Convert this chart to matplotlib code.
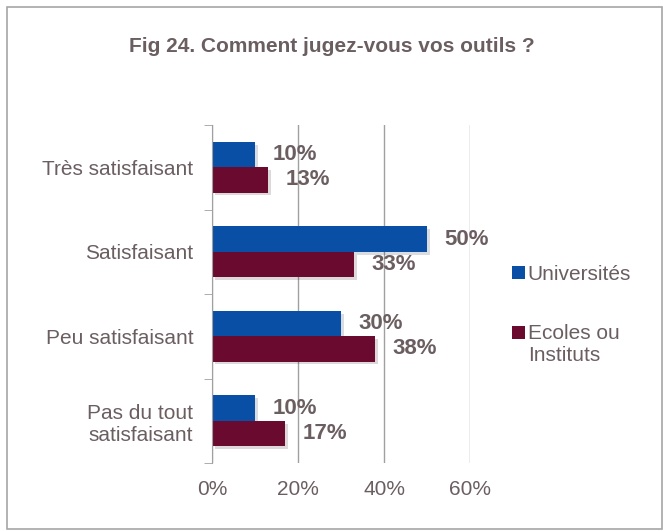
import matplotlib.pyplot as plt
import matplotlib.patheffects as pe
from matplotlib.patches import Rectangle
import numpy as np

plt.rcParams['font.family'] = ['Liberation Sans', 'DejaVu Sans']

categories = ['Très satisfaisant', 'Satisfaisant', 'Peu satisfaisant', 'Pas du tout\nsatisfaisant']
universites = [10, 50, 30, 10]
ecoles = [13, 33, 38, 17]
series_names = ['Universités', 'Ecoles ou\nInstituts']

blue = '#0A4FA6'
maroon = '#6A0A2E'
txt = '#6B5E61'
grid_c = '#A0A0A0'

fig = plt.figure(figsize=(6.63, 5.31), dpi=100)
fig.patches.append(Rectangle((0.011, 0.003), 0.987, 0.983, transform=fig.transFigure,
                             fill=False, edgecolor='#A6A6A6', linewidth=1.2))
ax = fig.add_axes([212/663, 1 - 463/531, (470-212)/663, (463-125)/531])

y = np.arange(len(categories))
h = 0.3
shadow = [pe.SimplePatchShadow(offset=(2, -2), alpha=0.15), pe.Normal()]
b1 = ax.barh(y - h/2, universites, height=h, color=blue, label=series_names[0], path_effects=shadow)
b2 = ax.barh(y + h/2, ecoles, height=h, color=maroon, label=series_names[1], path_effects=shadow)

for rects, vals in ((b1, universites), (b2, ecoles)):
    for r, v in zip(rects, vals):
        ax.annotate(f'{v}%', (v, r.get_y() + r.get_height()/2), xytext=(12.5, 0),
                    textcoords='offset points', va='center', ha='left',
                    fontsize=16, fontweight='bold', color=txt)

ax.set_xlim(0, 60)
ax.set_ylim(len(categories) - 0.5, -0.5)
ax.set_xticks([0, 20, 40, 60])
ax.set_xticklabels(['0%', '20%', '40%', '60%'])
ax.set_yticks(y)
ax.set_yticklabels(categories)
ax.set_yticks(np.arange(len(categories) + 1) - 0.5, minor=True)
ax.tick_params(axis='y', which='major', length=0, pad=13.5, labelsize=15, labelcolor=txt)
ax.tick_params(axis='y', which='minor', length=6, color=grid_c, direction='out')
ax.tick_params(axis='x', length=0, pad=12, labelsize=15, labelcolor=txt)
for lbl in ax.get_yticklabels():
    lbl.set_horizontalalignment('right')
    lbl.set_multialignment('center')

ax.xaxis.grid(True, color=grid_c, linewidth=1)
ax.set_axisbelow(True)
for s in ['top', 'right', 'bottom']:
    ax.spines[s].set_visible(False)
ax.spines['left'].set_color(grid_c)

fig.text(0.5, 1 - 47/531, 'Fig 24. Comment jugez-vous vos outils ?', ha='center', va='center',
         fontsize=15, fontweight='bold', color=txt)

leg = fig.legend(handles=[b1, b2], labels=series_names, loc='upper left',
                 bbox_to_anchor=(512/663, 1 - 265/531), frameon=False, fontsize=15,
                 handlelength=0.6, handleheight=0.6, handletextpad=0.15, labelspacing=1.9,
                 borderpad=0, borderaxespad=0)
for t in leg.get_texts():
    t.set_color(txt)
for hdl in leg.legend_handles:
    hdl.set_path_effects([])
# square next to the first line of the two-line label
leg.legend_handles[1].set_y(leg.legend_handles[1].get_y() + 8.5)

fig.savefig('out.png', dpi=100)
